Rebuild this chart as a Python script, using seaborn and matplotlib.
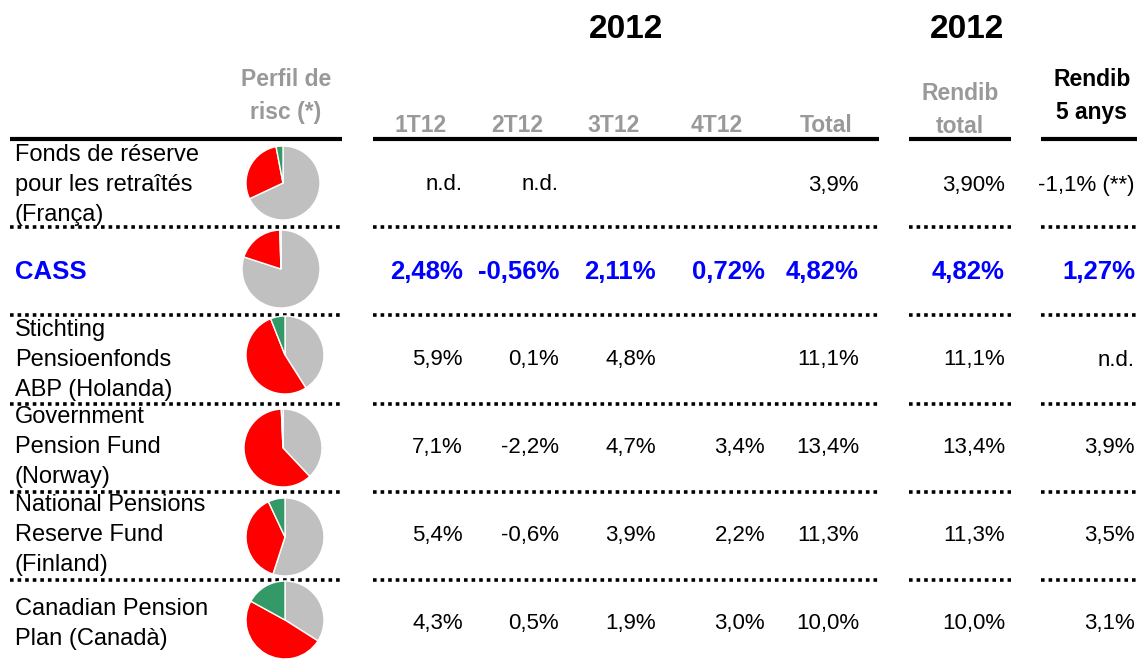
import numpy as np
import pandas as pd
import matplotlib
matplotlib.use("Agg")
import matplotlib.pyplot as plt
import seaborn as sns

# data
funds = ["Fonds de réserve\npour les retraîtés\n(França)", "CASS",
         "Stichting\nPensioenfonds\nABP (Holanda)", "Government\nPension Fund\n(Norway)",
         "National Pensions\nReserve Fund\n(Finland)", "Canadian Pension\nPlan (Canadà)"]
q1 = ["n.d.", "2,48%", "5,9%", "7,1%", "5,4%", "4,3%"]
q2 = ["n.d.", "-0,56%", "0,1%", "-2,2%", "-0,6%", "0,5%"]
q3 = ["", "2,11%", "4,8%", "4,7%", "3,9%", "1,9%"]
q4 = ["", "0,72%", "", "3,4%", "2,2%", "3,0%"]
total = ["3,9%", "4,82%", "11,1%", "13,4%", "11,3%", "10,0%"]
rendib_total = ["3,90%", "4,82%", "11,1%", "13,4%", "11,3%", "10,0%"]
rendib_5 = ["-1,1% (**)", "1,27%", "n.d.", "3,9%", "3,5%", "3,1%"]
# risk profile shares (grey, red, green)
risk_grey = [68, 80, 41, 38, 55, 34]
risk_red = [29, 19.5, 53, 61.3, 38, 49]
risk_green = [3, 0.5, 6, 0.7, 7, 17]

PIE_COLORS = ["#C0C0C0", "#FF0000", "#339966"]
GREY_HEAD = "#999999"
BLUE = "#0000FF"

sns.set_style("white")
plt.rcParams["font.family"] = ["Liberation Sans", "DejaVu Sans"]
plt.rcParams["text.color"] = "black"

W, H = 1137, 661
fig = plt.figure(figsize=(W / 100, H / 100), dpi=100)
ax = fig.add_axes([0, 0, 1, 1])
ax.set_xlim(0, W)
ax.set_ylim(H, 0)
ax.axis("off")

# titles
ax.text(626, 30, "2012", fontsize=24, fontweight="bold", ha="center", va="center")
ax.text(967, 30, "2012", fontsize=24, fontweight="bold", ha="center", va="center")

# headers
hkw = dict(fontsize=16.5, fontweight="bold", color=GREY_HEAD, ha="center", va="center")
ax.text(286, 96, "Perfil de\nrisc (*)", linespacing=1.6, **hkw)
for x, lab in zip([421, 517, 614, 717, 826], ["1T12", "2T12", "3T12", "4T12", "Total"]):
    ax.text(x, 125, lab, **hkw)
ax.text(960, 110, "Rendib\ntotal", linespacing=1.6, **hkw)
ax.text(1092, 96, "Rendib\n5 anys", linespacing=1.6, fontsize=16.5, fontweight="bold",
        color="black", ha="center", va="center")

segments = [(10, 342), (373, 879), (909, 1011), (1041, 1137)]
for x0, x1 in segments:
    ax.plot([x0, x1], [139, 139], color="black", lw=3, solid_capstyle="butt")

row_sep = [227, 315, 404, 492, 580]
for y in row_sep:
    for x0, x1 in segments:
        ax.plot([x0, x1], [y, y], color="black", lw=2.6, linestyle=(0, (1, 1.1)),
                dash_capstyle="butt")

row_y = [185, 272, 360, 447, 535, 624]
pie_c = [(283, 183, 37), (281, 269, 39), (285, 355, 39), (283, 448, 39), (285, 537, 39), (285, 620, 39)]
cols = [q1, q2, q3, q4, total, rendib_total, rendib_5]
col_right = [463, 559, 656, 765, 859, 1005, 1135]

for i, name in enumerate(funds):
    is_cass = name == "CASS"
    color = BLUE if is_cass else "black"
    weight = "bold" if is_cass else "normal"
    ax.text(15, row_y[i], name, ha="left", va="center", linespacing=1.47,
            fontsize=18.5 if is_cass else 17, color=color, fontweight=weight)
    for vals, xr in zip(cols, col_right):
        if vals[i]:
            ax.text(xr, row_y[i], vals[i], ha="right", va="center",
                    fontsize=18.5 if is_cass else 16, color=color, fontweight=weight)

    cx, cy, r = pie_c[i]
    pax = fig.add_axes([(cx - r) / W, 1 - (cy + r) / H, 2 * r / W, 2 * r / H])
    pax.pie([risk_grey[i], risk_red[i], risk_green[i]], colors=PIE_COLORS,
            startangle=90, counterclock=False, radius=1)
    pax.set_xlim(-1, 1)
    pax.set_ylim(-1, 1)
    pax.set_aspect("equal")
    pax.axis("off")

fig.savefig("out.png", dpi=100)
